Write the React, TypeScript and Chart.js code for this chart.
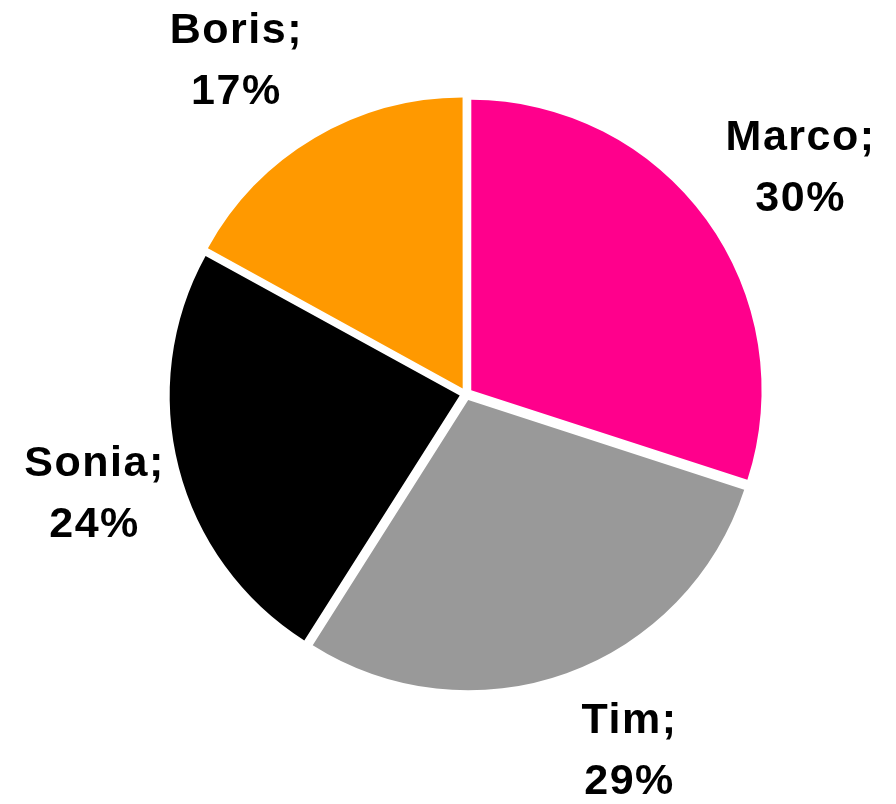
import React, { useEffect, useRef } from "react";
import { Chart, registerables } from "chart.js";

Chart.register(...registerables);

const categories = ["Marco", "Tim", "Sonia", "Boris"];
const shares = [30, 29, 24, 17];
const sliceColors = ["#FF008C", "#999999", "#000000", "#FF9900"];

// small per-label nudges (pixels) to mimic the original label placement
const labelNudges = [
  { dx: 10, dy: 6 },
  { dx: 27, dy: -22 },
  { dx: 15, dy: -2 },
  { dx: -27, dy: 8 },
];

const outsideLabels = {
  id: "outsideLabels",
  afterDatasetsDraw(chart: any) {
    const ctx = chart.ctx;
    const meta = chart.getDatasetMeta(0);
    const data = chart.data.datasets[0].data as number[];
    const total = data.reduce((a, b) => a + b, 0);
    ctx.save();
    ctx.fillStyle = "#000000";
    ctx.font = 'bold 43px "Liberation Sans", Arial, sans-serif';
    (ctx as any).letterSpacing = "1.5px";
    ctx.textAlign = "center";
    ctx.textBaseline = "alphabetic";
    meta.data.forEach((arc: any, i: number) => {
      const p = arc.getProps(["x", "y", "startAngle", "endAngle", "outerRadius"], true);
      const mid = (p.startAngle + p.endAngle) / 2;
      const dist = p.outerRadius + 110;
      const n = labelNudges[i] || { dx: 0, dy: 0 };
      const cx = p.x + Math.cos(mid) * dist + n.dx;
      const cy = p.y + Math.sin(mid) * dist + n.dy;
      const pct = Math.round((data[i] / total) * 100);
      ctx.fillText(`${chart.data.labels[i]};`, cx + 1, cy - 15);
      ctx.fillText(`${pct}%`, cx + 1, cy + 46);
    });
    ctx.restore();
  },
};

export default function App() {
  const canvasRef = useRef<HTMLCanvasElement | null>(null);

  useEffect(() => {
    if (!canvasRef.current) return;
    const chart = new Chart(canvasRef.current, {
      type: "pie",
      data: {
        labels: categories,
        datasets: [
          {
            data: shares,
            backgroundColor: sliceColors,
            borderWidth: 0,
            offset: 26,
            hoverOffset: 0,
          },
        ],
      },
      options: {
        responsive: false,
        animation: false,
        radius: 290,
        layout: { padding: { left: 36, right: 0, top: 0, bottom: 16 } },
        plugins: {
          legend: { display: false },
          tooltip: { enabled: false },
        },
      },
      plugins: [outsideLabels],
    });
    return () => chart.destroy();
  }, []);

  return (
    <div style={{ position: "fixed", left: 0, top: 0, width: 896, height: 804, background: "#ffffff" }}>
      <canvas ref={canvasRef} width={896} height={804} style={{ display: "block" }} />
    </div>
  );
}
